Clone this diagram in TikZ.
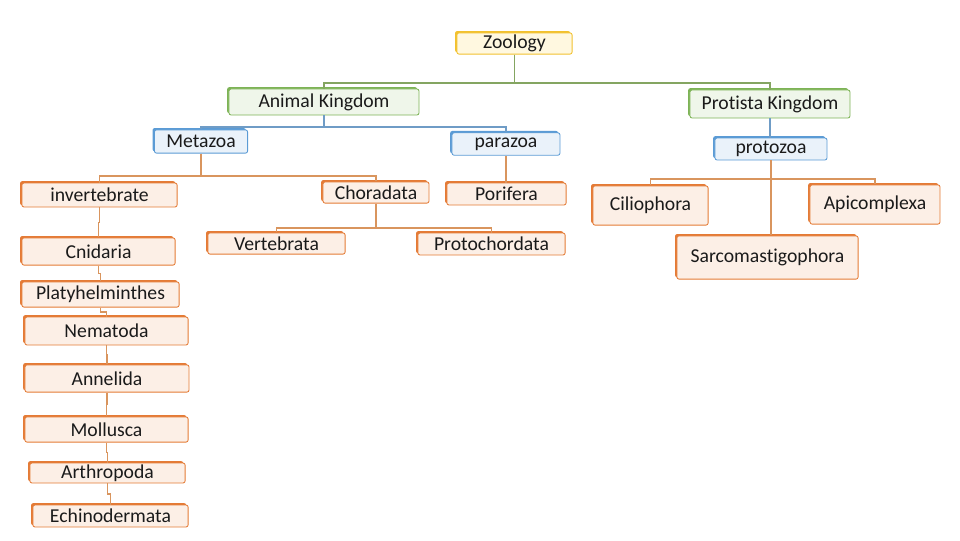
\documentclass[tikz,border=0pt]{standalone}
\usepackage{fontspec}
\setmainfont{Carlito}[Ligatures={NoCommon,NoRare}]
\usetikzlibrary{calc,shadows}
\definecolor{Ink}{HTML}{1A1A1A}
\definecolor{zline}{HTML}{F2C12E}
\definecolor{zfill}{HTML}{FFF8E0}
\definecolor{gline}{HTML}{7DB356}
\definecolor{gfill}{HTML}{EFF6EA}
\definecolor{gwire}{HTML}{84A561}
\definecolor{bline}{HTML}{5B9BD5}
\definecolor{bfill}{HTML}{EAF2FA}
\definecolor{bwire}{HTML}{6F9CC6}
\definecolor{oline}{HTML}{E47B36}
\definecolor{ofill}{HTML}{FCEFE6}
\definecolor{owire}{HTML}{D9955E}
\tikzset{
  tbox/.style={rectangle,rounded corners=1.5pt,line width=0.6pt,inner sep=0pt,text=Ink,font=\fontsize{14}{16}\selectfont},
  yb/.style={tbox,draw=zline,fill=zfill,general shadow={fill=zline,shadow xshift=-1.3pt,shadow yshift=1.3pt}},
  gb/.style={tbox,draw=gline,fill=gfill,general shadow={fill=gline,shadow xshift=-1.3pt,shadow yshift=1.3pt}},
  bb/.style={tbox,draw=bline,fill=bfill,general shadow={fill=bline,shadow xshift=-1.3pt,shadow yshift=1.3pt}},
  ob/.style={tbox,draw=oline,fill=ofill,general shadow={fill=oline,shadow xshift=-1.3pt,shadow yshift=1.3pt}},
  gw/.style={draw=gwire,line width=1pt},
  bw/.style={draw=bwire,line width=1pt},
  ow/.style={draw=owire,line width=1pt},
}
\begin{document}
\begin{tikzpicture}[x=0.025cm,y=-0.025cm]
\path[use as bounding box] (0,0) rectangle (960,540);

% top levels
\node[yb,minimum width=2.88cm,minimum height=0.53cm] (zoology) at (514.5,43.5) {Zoology};
\node[gb,minimum width=4.75cm,minimum height=0.65cm] (animal) at (324,102) {Animal Kingdom};
\node[gb,minimum width=4.0cm,minimum height=0.7cm] (protista) at (770,104) {Protista Kingdom};
\node[bb,minimum width=2.33cm,minimum height=0.58cm] (metazoa) at (201,141.5) {Metazoa};
\node[bb,minimum width=2.7cm,minimum height=0.56cm] (parazoa) at (506,144) {parazoa};
\node[bb,minimum width=2.8cm,minimum height=0.55cm] (protozoa) at (771,149) {protozoa};

% metazoa and parazoa
\node[ob,minimum width=3.88cm,minimum height=0.6cm] (invert) at (99.5,195) {invertebrate};
\node[ob,minimum width=2.65cm,minimum height=0.53cm] (chora) at (376,192.5) {Choradata};
\node[ob,minimum width=2.98cm,minimum height=0.55cm] (porif) at (506.5,194) {Porifera};
\node[ob,minimum width=3.43cm,minimum height=0.53cm] (verteb) at (276.5,243.5) {Vertebrata};
\node[ob,minimum width=3.68cm,minimum height=0.55cm] (protoch) at (491.5,244) {Protochordata};

% protozoa
\node[ob,minimum width=2.88cm,minimum height=0.98cm] (cilio) at (650.5,205.5) {Ciliophora};
\node[ob,minimum width=3.25cm,minimum height=0.98cm] (apico) at (875,204.5) {Apicomplexa};
\node[ob,minimum width=4.53cm,minimum height=1.08cm] (sarco) at (767.5,257.5) {Sarcomastigophora};

% invertebrate phyla
\node[ob,minimum width=3.83cm,minimum height=0.68cm] (cnid) at (98.5,251.5) {Cnidaria};
\node[ob,minimum width=3.93cm,minimum height=0.63cm] (platy) at (100.5,294.5) {Platyhelminthes};
\node[ob,minimum width=4.08cm,minimum height=0.7cm] (nemat) at (106.5,331) {Nematoda};
\node[ob,minimum width=4.1cm,minimum height=0.68cm] (annel) at (107,378.5) {Annelida};
\node[ob,minimum width=4.08cm,minimum height=0.63cm] (mollu) at (106.5,429.5) {Mollusca};
\node[ob,minimum width=3.88cm,minimum height=0.5cm] (arthro) at (107.5,473) {Arthropoda};
\node[ob,minimum width=3.88cm,minimum height=0.55cm] (echin) at (110.5,516) {Echinodermata};

% connectors
\draw[gw] (zoology.south) -- (zoology.south |- 0,83) -| (animal.north);
\draw[gw] (zoology.south) -- (zoology.south |- 0,83) -| (protista.north);
\draw[bw] (animal.south) -- (animal.south |- 0,127) -| (metazoa.north);
\draw[bw] (animal.south) -- (animal.south |- 0,127) -| (parazoa.north);
\draw[bw] (protista.south) -- (protista.south |- protozoa.north);
\draw[ow] (metazoa.south) -- (metazoa.south |- 0,176) -| (invert.north);
\draw[ow] (metazoa.south) -- (metazoa.south |- 0,176) -| (chora.north);
\draw[ow] (parazoa.south) -- (parazoa.south |- porif.north);
\draw[ow] (chora.south) -- (chora.south |- 0,228) -| (verteb.north);
\draw[ow] (chora.south) -- (chora.south |- 0,228) -| (protoch.north);
\draw[ow] (protozoa.south) -- (protozoa.south |- 0,179) -| (cilio.north);
\draw[ow] (protozoa.south) -- (protozoa.south |- 0,179) -| (apico.north);
\draw[ow] (protozoa.south) -- (protozoa.south |- sarco.north);
\foreach \a/\b in {invert/cnid,cnid/platy,platy/nemat,nemat/annel,annel/mollu,mollu/arthro,arthro/echin}
  \draw[ow] (\a.south) |- ($(\a.south)!.5!(\b.north)$) -| (\b.north);
\end{tikzpicture}
\end{document}
